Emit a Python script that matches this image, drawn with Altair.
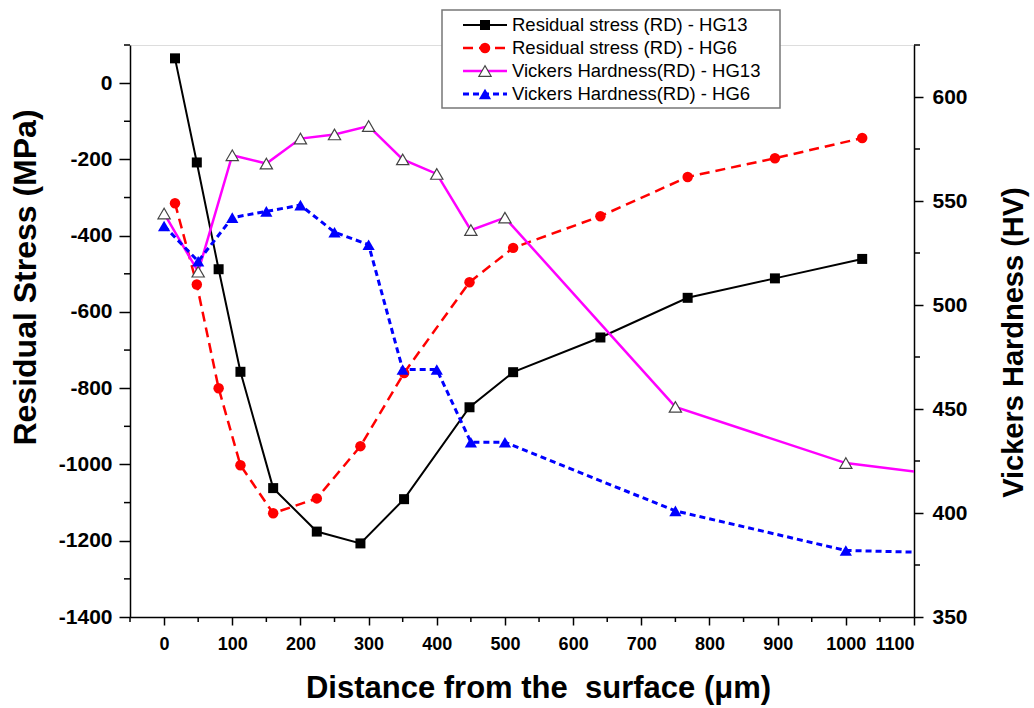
import altair as alt
import pandas as pd

# Residual stress profiles (MPa) versus depth (µm)
depth_rs = [16, 48, 80, 112, 160, 224, 288, 352, 448, 512, 640, 768, 896, 1024]
rs_hg13 = [65, -208, -488, -757, -1062, -1176, -1207, -1091, -850, -758, -667, -563, -512, -461]
rs_hg6 = [-315, -528, -800, -1002, -1128, -1089, -952, -760, -522, -432, -349, -246, -197, -144]

# Vickers hardness profiles (HV) versus depth (µm)
depth_hv = [0, 50, 100, 150, 200, 250, 300, 350, 400, 450, 500, 750, 1000, 1250]
hv_hg13 = [544, 516, 572, 568, 580, 582, 586, 570, 563, 536, 542, 451, 424, 414]
hv_hg6 = [538, 521, 542, 545, 548, 535, 529, 469, 469, 434, 434, 401, 382, 380]

series_names = [
    "Residual stress (RD) - HG13",
    "Residual stress (RD) - HG6",
    "Vickers Hardness(RD) - HG13",
    "Vickers Hardness(RD) - HG6",
]

# axis ticks
x_major = list(range(0, 1101, 100))
x_minor = list(range(-50, 1051, 100))
rs_major = list(range(-1400, 1, 200))
rs_minor = list(range(-1300, 101, 200))
hv_major = list(range(350, 601, 50))
hv_minor = list(range(375, 626, 50))

W, H = 784, 572
FONT = "Liberation Sans"
PLAIN = "'' + datum.value"

x_scale = alt.Scale(domain=[-50, 1100], nice=False, zero=False)
rs_scale = alt.Scale(domain=[-1400, 100], nice=False, zero=False)
hv_scale = alt.Scale(domain=[350, 625], nice=False, zero=False)

common = dict(
    grid=False, labelFont=FONT, labelFontWeight="bold", labelColor="black",
    titleFont=FONT, titleFontWeight="bold", titleColor="black",
    domainColor="black", domainWidth=1.5, tickColor="black", tickWidth=1.5,
    labelExpr=PLAIN,
)
x_axis = alt.Axis(
    values=x_major, title="Distance from the\u00a0 surface (μm)",
    labelFontSize=18, titleFontSize=31, tickSize=8, labelPadding=10, titlePadding=20,
    titleX=408, **common,
)
rs_axis = alt.Axis(
    values=rs_major, title="Residual Stress (MPa)", orient="left",
    labelFontSize=21, titleFontSize=32, tickSize=11, labelPadding=7,
    titleX=-105, titleY=232, titleBaseline="middle", titleAngle=270, **common,
)
hv_axis = alt.Axis(
    values=hv_major, title="Vickers Hardness (HV)", orient="right",
    labelFontSize=21, titleFontSize=29, tickSize=9, labelPadding=9,
    titleX=99, titleY=297, titleBaseline="middle", titleAngle=270, **common,
)

def frame(xs, ys):
    return pd.DataFrame({"depth": xs, "value": ys})

X = alt.X("depth:Q", scale=x_scale, axis=x_axis)
Y_RS = alt.Y("value:Q", scale=rs_scale, axis=rs_axis)
Y_HV = alt.Y("value:Q", scale=hv_scale, axis=hv_axis)

d13 = frame(depth_rs, rs_hg13)
d6 = frame(depth_rs, rs_hg6)
h13 = frame(depth_hv, hv_hg13)
h6 = frame(depth_hv, hv_hg6)

black_line = alt.Chart(d13).mark_line(color="black", strokeWidth=2).encode(x=X, y=Y_RS)
black_pts = alt.Chart(d13).mark_point(shape="square", filled=True, color="black", size=100, opacity=1).encode(x=X, y=Y_RS)
red_line = alt.Chart(d6).mark_line(color="#ff0000", strokeWidth=2.5, strokeDash=[10, 6]).encode(x=X, y=Y_RS)
red_pts = alt.Chart(d6).mark_point(shape="circle", filled=True, color="#ff0000", size=110, opacity=1).encode(x=X, y=Y_RS)

rs_minor_ticks = alt.Chart(pd.DataFrame({"value": rs_minor})).mark_rule(color="black", strokeWidth=1.5).encode(
    y=alt.Y("value:Q", scale=rs_scale, axis=rs_axis), x=alt.value(0), x2=alt.value(-6)
)
x_minor_ticks = alt.Chart(pd.DataFrame({"depth": x_minor})).mark_rule(color="black", strokeWidth=1.5).encode(
    x=alt.X("depth:Q", scale=x_scale, axis=x_axis), y=alt.value(H), y2=alt.value(H + 5)
)

left = alt.layer(black_line, red_line, black_pts, red_pts, rs_minor_ticks, x_minor_ticks)

mag_line = alt.Chart(h13).mark_line(color="#ff00ff", strokeWidth=2.5, clip=True).encode(x=X, y=Y_HV)
mag_pts = alt.Chart(h13).mark_point(shape="triangle-up", filled=True, fill="white", stroke="#444444",
                                    strokeWidth=1.2, size=150, opacity=1, clip=True).encode(x=X, y=Y_HV)
blue_line = alt.Chart(h6).mark_line(color="#0000ff", strokeWidth=3, strokeDash=[6, 4], clip=True).encode(x=X, y=Y_HV)
blue_pts = alt.Chart(h6).mark_point(shape="triangle-up", filled=True, color="#0000ff", size=150, opacity=1,
                                    clip=True).encode(x=X, y=Y_HV)
hv_minor_ticks = alt.Chart(pd.DataFrame({"value": hv_minor})).mark_rule(color="black", strokeWidth=1.5).encode(
    y=alt.Y("value:Q", scale=hv_scale, axis=hv_axis), x=alt.value(W), x2=alt.value(W + 6)
)

right = alt.layer(mag_line, blue_line, mag_pts, blue_pts, hv_minor_ticks)

# legend box with line + marker samples
box = alt.Chart(pd.DataFrame({"k": [0]})).mark_rect(fill="white", stroke="#777777", strokeWidth=1.5).encode(
    x=alt.value(312), x2=alt.value(650), y=alt.value(-35), y2=alt.value(63)
)
styles = [
    dict(line=dict(color="black", strokeWidth=2), pt=dict(shape="square", filled=True, color="black", size=100)),
    dict(line=dict(color="#ff0000", strokeWidth=2.5, strokeDash=[10, 6]),
         pt=dict(shape="circle", filled=True, color="#ff0000", size=110)),
    dict(line=dict(color="#ff00ff", strokeWidth=2.5),
         pt=dict(shape="triangle-up", filled=True, fill="white", stroke="#444444", strokeWidth=1.2, size=150)),
    dict(line=dict(color="#0000ff", strokeWidth=3, strokeDash=[6, 4]),
         pt=dict(shape="triangle-up", filled=True, color="#0000ff", size=150)),
]
legend_layers = [box]
for i, (name, st) in enumerate(zip(series_names, styles)):
    yy = -20 + i * 23
    df = pd.DataFrame({"name": [name]})
    legend_layers.append(alt.Chart(df).mark_rule(**st["line"]).encode(
        x=alt.value(333), x2=alt.value(377), y=alt.value(yy)))
    legend_layers.append(alt.Chart(df).mark_point(opacity=1, **st["pt"]).encode(
        x=alt.value(355), y=alt.value(yy)))
    legend_layers.append(alt.Chart(df).mark_text(align="left", baseline="middle", font=FONT, fontSize=18.5,
                                                 color="black").encode(
        x=alt.value(382), y=alt.value(yy), text="name:N"))

chart = alt.layer(left, right, *legend_layers).resolve_scale(y="independent").properties(
    width=W, height=H,
    autosize=alt.AutoSizeParams(type="none"),
    padding={"left": 130, "top": 45, "right": 120, "bottom": 91},
).configure_view(stroke=None).configure(background="white")

chart.save("out.html", embed_options={"renderer": "svg", "actions": False})
